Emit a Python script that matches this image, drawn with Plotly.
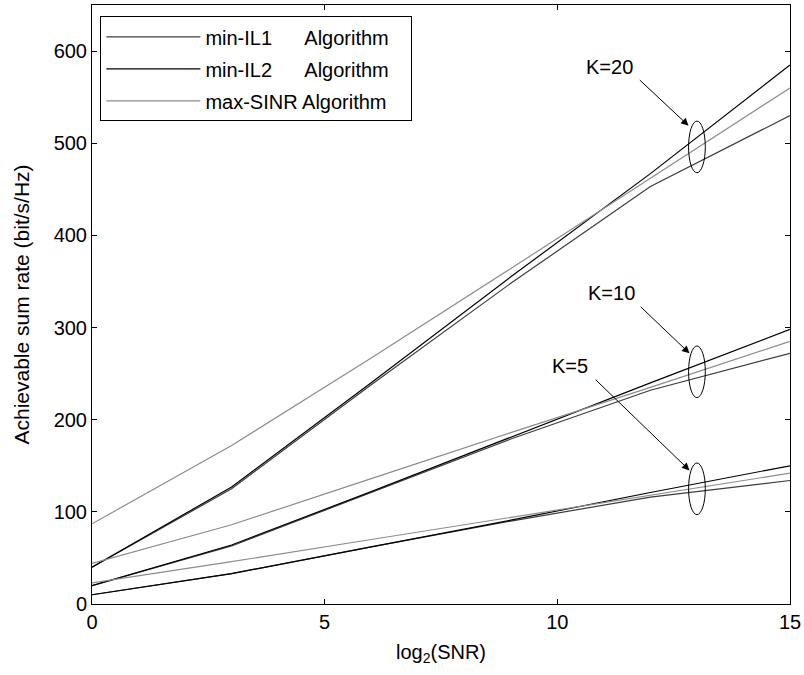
import plotly.graph_objects as go

snr = [0, 3, 6, 9, 12, 15]

# K = 20
k20_il1 = [40, 125, 238, 348, 453, 530]
k20_il2 = [40, 127, 240, 355, 467, 585]
k20_sinr = [87, 172, 267, 364, 462, 560]
# K = 10
k10_il1 = [20, 63, 121, 179, 232, 272]
k10_il2 = [20, 64, 122, 181, 240, 298]
k10_sinr = [44, 86, 136, 186, 235, 285]
# K = 5
k5_il1 = [10, 33, 62, 90, 116, 134]
k5_il2 = [10, 33, 62, 91, 121, 150]
k5_sinr = [23, 46, 70, 94, 118, 142]

names = ["min-IL1\u00a0\u00a0\u00a0\u00a0\u00a0 Algorithm\u00a0\u00a0\u00a0",
         "min-IL2\u00a0\u00a0\u00a0\u00a0\u00a0 Algorithm\u00a0\u00a0\u00a0",
         "max-SINR Algorithm\u00a0\u00a0\u00a0"]
colors = ["#3c3c3c", "#000000", "#8c8c8c"]

groups = [
    (k20_il1, k20_il2, k20_sinr),
    (k10_il1, k10_il2, k10_sinr),
    (k5_il1, k5_il2, k5_sinr),
]

FONT = "Liberation Sans, Arial, sans-serif"

fig = go.Figure()
for gi, grp in enumerate(groups):
    for si, ys in enumerate(grp):
        fig.add_trace(go.Scatter(
            x=snr, y=ys, mode="lines", name=names[si],
            line=dict(color=colors[si], width=1.2),
            showlegend=(gi == 0), legendgroup=str(si)))

# ellipses
ell = [(13, 496), (13, 252), (13, 125)]
for cx, cy in ell:
    fig.add_shape(type="circle", xref="x", yref="y",
                  x0=cx - 0.18, x1=cx + 0.18, y0=cy - 28, y1=cy + 28,
                  line=dict(color="black", width=1))

labels = [("K=20", 11.12, 583, 11.74, 570, 12.82, 519),
          ("K=10", 11.16, 337, 11.76, 324, 12.84, 272),
          ("K=5", 10.27, 258, 10.79, 245, 12.84, 145)]
for txt, tx, ty, ax, ay, hx, hy in labels:
    fig.add_annotation(x=tx, y=ty, text=txt, showarrow=False,
                       font=dict(size=20, color="black", family=FONT))
    fig.add_annotation(x=hx, y=hy, ax=ax, ay=ay, axref="x", ayref="y",
                       text="", showarrow=True, arrowhead=2, arrowsize=1.5,
                       arrowwidth=1, arrowcolor="black")

axis_common = dict(showline=True, linecolor="black", linewidth=1, mirror="ticks",
                   ticks="inside", ticklen=5, tickcolor="black", showgrid=False,
                   zeroline=False, automargin=False,
                   tickfont=dict(size=20, color="black", family=FONT))

fig.update_layout(
    width=804, height=675,
    margin=dict(l=92, r=14, t=5, b=71),
    paper_bgcolor="white", plot_bgcolor="white",
    font=dict(family=FONT, size=20, color="black"),
    xaxis=dict(range=[0, 15], tickvals=[0, 5, 10, 15],
               title=dict(text="log<sub>2</sub>(SNR)", standoff=12,
                          font=dict(size=20, family=FONT)), **axis_common),
    yaxis=dict(range=[0, 650], tickvals=[0, 100, 200, 300, 400, 500, 600],
               title=dict(text="Achievable sum rate (bit/s/Hz)", standoff=18,
                          font=dict(size=21, family=FONT)), **axis_common),
    legend=dict(x=0.012, y=0.981, xanchor="left", yanchor="top",
                bordercolor="black", borderwidth=1, bgcolor="white",
                font=dict(size=20, color="black", family=FONT), itemwidth=94,
                tracegroupgap=3),
    showlegend=True,
)

fig.write_html("out.html", config={"displayModeBar": False},
               post_script="document.body.style.margin='0';")
